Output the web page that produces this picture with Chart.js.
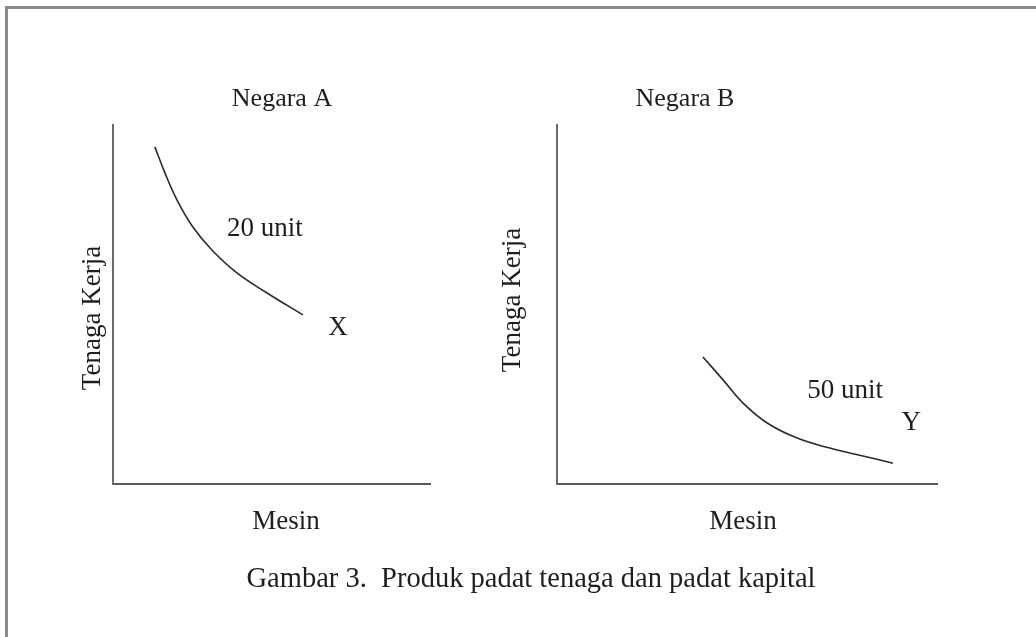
<!DOCTYPE html>
<html>
<head>
<meta charset="utf-8">
<script src="https://cdn.jsdelivr.net/npm/chart.js@4.4.1/dist/chart.umd.min.js"></script>
<style>
  html, body { margin: 0; padding: 0; background: #fff; }
  #wrap { position: relative; width: 1036px; height: 637px; overflow: hidden; }
  #frame { position: absolute; left: 5px; top: 6px; width: 1040px; height: 700px;
           border-left: 3px solid #8a8a8a; border-top: 3px solid #8a8a8a; }
  canvas { position: absolute; left: 0; top: 0; }
</style>
</head>
<body>
<div id="wrap">
  <div id="frame"></div>
  <canvas id="negaraA" width="1036" height="637"></canvas>
  <canvas id="negaraB" width="1036" height="637"></canvas>
</div>
<script>
// kurva isoquant (satuan bebas 0-10)
const mesinA  = [1.32, 1.64, 2.02, 2.52, 3.12, 3.91, 4.86, 5.99];
const tenagaA = [9.39, 8.66, 7.91, 7.16, 6.52, 5.88, 5.32, 4.71];
const mesinB  = [3.84, 4.37, 4.89, 5.53, 6.32, 7.18, 8.05, 8.84];
const tenagaB = [3.54, 2.90, 2.26, 1.70, 1.28, 1.00, 0.78, 0.58];

const judul = ['Negara A', 'Negara B'];
const sumbuX = 'Mesin';
const sumbuY = 'Tenaga Kerja';
const keterangan = 'Gambar 3.  Produk padat tenaga dan padat kapital';

// label di dalam grafik (posisi dalam satuan data)
const labelA = [{ text: '20 unit', x: 4.79, y: 6.91 }, { text: 'X', x: 7.10, y: 4.15 }];
const labelB = [{ text: '50 unit', x: 7.58, y: 2.40 }, { text: 'Y', x: 9.32, y: 1.50 }];

const FONT = '"Liberation Serif", "Times New Roman", serif';
const INK = '#1e1e1e';

const teksPanel = {
  id: 'teksPanel',
  afterDraw(chart, args, opts) {
    const { ctx, chartArea: a, scales: { x, y } } = chart;
    ctx.save();
    ctx.fillStyle = INK;
    ctx.textAlign = 'center';
    ctx.textBaseline = 'alphabetic';
    ctx.font = '26px ' + FONT;
    ctx.fillText(opts.title, a.left + opts.titleDx, a.top - 19);

    ctx.font = '27px ' + FONT;
    ctx.fillText(sumbuX, a.left + opts.mesinDx, a.bottom + 45);
    opts.notes.forEach(n => {
      ctx.fillText(n.text, x.getPixelForValue(n.x), y.getPixelForValue(n.y));
    });

    ctx.save();
    ctx.translate(a.left - opts.yTitleDx, opts.yTitleY);
    ctx.rotate(-Math.PI / 2);
    ctx.fillText(sumbuY, 0, 0);
    ctx.restore();

    if (opts.caption) {
      ctx.font = '28.5px ' + FONT;
      ctx.fillText(opts.caption, 531, 587);
    }
    ctx.restore();
  }
};

function buatPanel(id, xs, ys, pad, panelOpts) {
  const pts = xs.map((v, i) => ({ x: v, y: ys[i] }));
  return new Chart(document.getElementById(id), {
    type: 'scatter',
    data: {
      datasets: [{
        data: pts,
        showLine: true,
        borderColor: '#2a2a2a',
        borderWidth: 1.6,
        pointRadius: 0,
        tension: 0.4
      }]
    },
    options: {
      responsive: false,
      animation: false,
      devicePixelRatio: 1,
      layout: { padding: pad },
      plugins: {
        legend: { display: false },
        tooltip: { enabled: false },
        teksPanel: panelOpts
      },
      scales: {
        x: {
          min: 0, max: 10,
          grid: { display: false, drawTicks: false },
          ticks: { display: false },
          border: { display: true, color: '#5a5a5a', width: 2 }
        },
        y: {
          min: 0, max: 10,
          grid: { display: false, drawTicks: false },
          ticks: { display: false },
          border: { display: true, color: '#6a6a6a', width: 2 }
        }
      }
    },
    plugins: [teksPanel]
  });
}

buatPanel('negaraA', mesinA, tenagaA,
  { left: 113, top: 125, right: 1036 - 430, bottom: 637 - 484 },
  { title: judul[0], titleDx: 169, mesinDx: 173, yTitleDx: 13, yTitleY: 318, notes: labelA, caption: keterangan });

buatPanel('negaraB', mesinB, tenagaB,
  { left: 557, top: 125, right: 1036 - 937, bottom: 637 - 484 },
  { title: judul[1], titleDx: 128, mesinDx: 186, yTitleDx: 37, yTitleY: 300, notes: labelB });
</script>
</body>
</html>
